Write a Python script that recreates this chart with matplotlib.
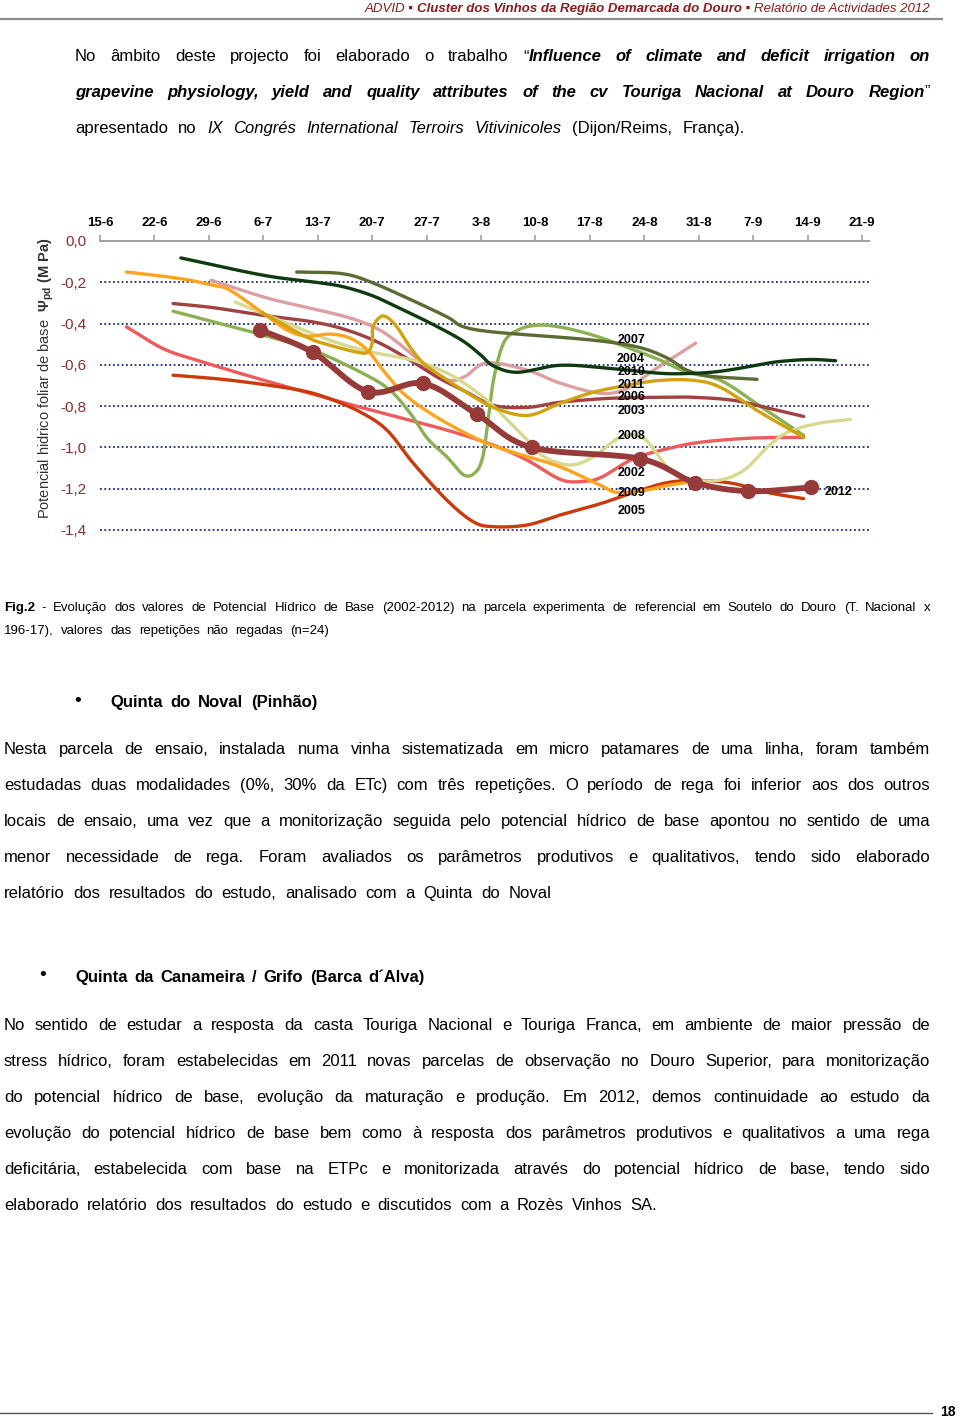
import numpy as np
import matplotlib
matplotlib.use("Agg")
import matplotlib.pyplot as plt

plt.rcParams["font.family"] = ["Liberation Sans", "DejaVu Sans"]
plt.rcParams["mathtext.fontset"] = "custom"
plt.rcParams["mathtext.rm"] = "Liberation Sans"
plt.rcParams["mathtext.bf"] = "Liberation Sans:bold"
plt.rcParams["mathtext.it"] = "Liberation Sans:italic"

# ---- chart data (x = days after 15-6, y = leaf water potential, MPa) ----
week_labels = ["15-6", "22-6", "29-6", "6-7", "13-7", "20-7", "27-7", "3-8",
               "10-8", "17-8", "24-8", "31-8", "7-9", "14-9", "21-9"]
week_days = [0, 7, 14, 21, 28, 35, 42, 49, 56, 63, 70, 77, 84, 91, 98]
psi_ticks = [0.0, -0.2, -0.4, -0.6, -0.8, -1.0, -1.2, -1.4]
psi_labels = ["0,0", "-0,2", "-0,4", "-0,6", "-0,8", "-1,0", "-1,2", "-1,4"]

days_2002 = [3.4, 8.1, 12.4, 21.0, 31.7, 38.2, 44.6, 50.6, 54.9, 59.2, 62.0, 64.4, 68.6, 73.0, 77.2, 83.7, 90.5]
psi_2002 = [-0.416, -0.521, -0.577, -0.674, -0.787, -0.852, -0.916, -0.989, -1.061, -1.155, -1.165, -1.146, -1.055, -1.006, -0.975, -0.955, -0.951]

days_2003 = [14.3, 21.0, 25.3, 31.8, 36.0, 39.5, 42.5, 45.0, 47.0, 49.8, 55.0, 59.2, 64.4, 67.8, 71.2, 76.6]
psi_2003 = [-0.19, -0.271, -0.311, -0.369, -0.432, -0.529, -0.626, -0.675, -0.655, -0.59, -0.626, -0.689, -0.738, -0.714, -0.626, -0.495]

days_2004 = [9.4, 14.6, 21.0, 27.4, 33.8, 37.3, 39.9, 42.1, 44.6, 46.8, 48.3, 49.2, 49.8, 50.6, 51.9,
             53.7, 56.2, 59.2, 63.4, 67.8, 72.1, 75.5, 79.8, 84.9, 90.5]
psi_2004 = [-0.34, -0.392, -0.456, -0.529, -0.641, -0.723, -0.835, -0.956, -1.045, -1.134, -1.12, -1.05, -0.903, -0.675, -0.495,
            -0.432, -0.408, -0.417, -0.456, -0.515, -0.578, -0.636, -0.675, -0.8, -0.942]

days_2005 = [9.4, 16.7, 25.3, 29.6, 33.8, 37.0, 40.3, 44.6, 48.0, 50.6, 54.9, 59.2, 64.4, 68.6, 73.0, 77.2, 81.5, 85.8, 90.5]
psi_2005 = [-0.65, -0.674, -0.72, -0.765, -0.835, -0.92, -1.077, -1.255, -1.36, -1.384, -1.376, -1.327, -1.272, -1.218, -1.17, -1.16, -1.175, -1.218, -1.248]

days_2006 = [9.4, 14.6, 21.0, 27.4, 31.8, 36.0, 39.9, 43.4, 46.7, 50.6, 55.0, 59.2, 65.6, 72.1, 76.3, 81.5, 86.0, 90.5]
psi_2006 = [-0.303, -0.323, -0.36, -0.392, -0.432, -0.495, -0.578, -0.66, -0.723, -0.796, -0.806, -0.781, -0.762, -0.757, -0.757, -0.772, -0.81, -0.85]

days_2007 = [25.3, 31.1, 34.9, 40.3, 44.7, 46.7, 50.6, 59.2, 65.6, 69.9, 73.0, 75.5, 78.5, 84.5]
psi_2007 = [-0.15, -0.158, -0.2, -0.29, -0.369, -0.415, -0.441, -0.466, -0.49, -0.521, -0.568, -0.626, -0.655, -0.67]

days_2008 = [17.4, 23.1, 29.6, 34.5, 40.3, 44.7, 48.0, 50.6, 55.0, 57.1, 60.5, 63.5, 66.9, 69.9, 73.0, 75.5, 79.4, 82.8, 85.8, 88.4, 92.3, 96.5]
psi_2008 = [-0.296, -0.384, -0.481, -0.535, -0.578, -0.641, -0.72, -0.8, -0.966, -1.045, -1.085, -1.045, -0.951, -0.956, -1.097, -1.15, -1.16, -1.111, -1.0, -0.927, -0.884, -0.864]

days_2009 = [3.4, 10.3, 14.6, 16.7, 21.0, 24.1, 26.6, 29.6, 32.2, 34.4, 36.4, 39.0, 42.5, 46.7, 50.4, 55.0, 59.2, 64.4, 66.5, 69.9, 73.0, 75.5]
psi_2009 = [-0.15, -0.182, -0.215, -0.238, -0.35, -0.432, -0.461, -0.451, -0.471, -0.529, -0.626, -0.738, -0.835, -0.925, -0.99, -1.045, -1.094, -1.184, -1.218, -1.209, -1.184, -1.17]

days_2010 = [10.4, 21.0, 27.4, 31.1, 34.9, 38.2, 42.5, 46.5, 48.9, 50.6, 53.7, 59.2, 65.6, 72.1, 76.3, 79.8, 84.0, 87.1, 91.3, 94.6]
psi_2010 = [-0.082, -0.166, -0.198, -0.22, -0.263, -0.32, -0.398, -0.48, -0.55, -0.605, -0.636, -0.602, -0.617, -0.641, -0.641, -0.631, -0.605, -0.585, -0.574, -0.58]

days_2011 = [20.8, 26.6, 29.6, 33.1, 34.4, 35.0, 35.1, 36.0, 36.9, 38.2, 39.9, 41.6, 44.1, 46.7, 50.6, 55.0,
             59.2, 63.4, 67.8, 72.1, 76.3, 79.8, 84.9, 90.5]
psi_2011 = [-0.345, -0.466, -0.505, -0.539, -0.539, -0.495, -0.417, -0.369, -0.369, -0.417, -0.515, -0.592, -0.66, -0.723, -0.806, -0.845,
            -0.786, -0.733, -0.699, -0.675, -0.675, -0.709, -0.83, -0.951]

days_2012 = [20.6, 27.4, 34.5, 41.6, 48.5, 55.5, 69.5, 76.5, 83.4, 91.4]
psi_2012 = [-0.43, -0.54, -0.73, -0.69, -0.84, -1.0, -1.055, -1.17, -1.212, -1.194]

years = ["2002", "2003", "2004", "2005", "2006", "2007", "2008", "2009", "2010", "2011"]
year_days = [days_2002, days_2003, days_2004, days_2005, days_2006, days_2007, days_2008, days_2009, days_2010, days_2011]
year_psi = [psi_2002, psi_2003, psi_2004, psi_2005, psi_2006, psi_2007, psi_2008, psi_2009, psi_2010, psi_2011]
year_colors = ["#f05a5a", "#dca0a0", "#8cb052", "#cc3a0c", "#a04242", "#5b6b34", "#d8d890", "#ffa41c", "#0f3a10", "#d2a210"]

# labels stacked at 24-8, in the order shown
label_years = ["2007", "2004", "2010", "2011", "2006", "2003", "2008", "2002", "2009", "2005"]
label_psi = [-0.481, -0.573, -0.636, -0.699, -0.757, -0.825, -0.947, -1.126, -1.223, -1.306]


def smooth(x, y, n=16):
    # catmull-rom, close to excel's smoothed line
    pts = np.column_stack([x, y])
    p = np.vstack([2 * pts[0] - pts[1], pts, 2 * pts[-1] - pts[-2]])
    t = np.linspace(0, 1, n, endpoint=False)[:, None]
    out = []
    for i in range(1, len(p) - 2):
        p0, p1, p2, p3 = p[i - 1], p[i], p[i + 1], p[i + 2]
        out.append(0.5 * (2 * p1 + (-p0 + p2) * t + (2 * p0 - 5 * p1 + 4 * p2 - p3) * t ** 2
                          + (-p0 + 3 * p1 - 3 * p2 + p3) * t ** 3))
    out.append(pts[-1:])
    s = np.vstack(out)
    return s[:, 0], s[:, 1]


W, H = 960, 1419
fig = plt.figure(figsize=(W / 100, H / 100), dpi=100)
fig.patch.set_facecolor("white")
renderer = fig.canvas.get_renderer()

STYLES = {
    "n": dict(),
    "b": dict(fontweight="bold"),
    "i": dict(fontstyle="italic"),
    "bi": dict(fontweight="bold", fontstyle="italic"),
}


def fx(x):
    return x / W


def fy(y):
    return 1 - y / H


def tokenize(runs):
    words = []
    glue = False
    for txt, st in runs:
        parts = txt.split(" ")
        for i, p in enumerate(parts):
            if p == "":
                continue
            if i == 0 and glue and words:
                words[-1].append((p, st))
            else:
                words.append([(p, st)])
        glue = not txt.endswith(" ")
    return words


def justify(yc, runs, x0, x1, size, color="black"):
    base = yc + 0.36 * size * 100 / 72
    words = tokenize(runs)
    placed = []
    widths = []
    for word in words:
        arts = []
        ws = []
        for piece, st in word:
            a = fig.text(0, fy(base), piece, fontsize=size, color=color, va="baseline", **STYLES[st])
            arts.append(a)
            ws.append(a.get_window_extent(renderer).width)
        placed.append((arts, ws))
        widths.append(sum(ws))
    gap = (x1 - x0 - sum(widths)) / max(len(words) - 1, 1)
    x = x0
    for (arts, ws), w in zip(placed, widths):
        xx = x
        for a, wi in zip(arts, ws):
            a.set_x(fx(xx))
            xx += wi
        x += w + gap


# ---- page header ----
hdr_color = "#8a1c1c"
hdr = [("ADVID \u25aa ", "i"), ("Cluster dos Vinhos da Região Demarcada do Douro", "bi"),
       (" \u25aa Relatório de Actividades 2012", "i")]
x = 930
for txt, st in reversed(hdr):
    t = fig.text(fx(x), fy(12), txt, fontsize=9.5, color=hdr_color, ha="right", va="baseline", **STYLES[st])
    x -= t.get_window_extent(renderer).width
fig.add_artist(plt.Line2D([0, fx(942)], [fy(19), fy(19)], color="#8c8c8c", lw=1.6))

# ---- intro paragraph ----
justify(55, [("No âmbito deste projecto foi elaborado o trabalho \u201c", "n"),
             ("Influence of climate and deficit irrigation on", "bi")], 75, 930, 12)
justify(91, [("grapevine physiology, yield and quality attributes of the cv Touriga Nacional at Douro Region", "bi"),
             ("\u201d", "n")], 75, 930, 12)
justify(127, [("apresentado no ", "n"), ("IX Congrés International Terroirs Vitivinicoles", "i"),
              (" (Dijon/Reims, França).", "n")], 75, 745, 12)

# ---- chart ----
ax = fig.add_axes([fx(100), fy(530), (869 - 100) / W, (530 - 241) / H])
ax.set_xlim(0, 98.9)
ax.set_ylim(-1.4, 0)
for side in ["left", "right", "bottom"]:
    ax.spines[side].set_visible(False)
ax.spines["top"].set_color("#a0a0a0")
ax.spines["top"].set_linewidth(1.4)
ax.xaxis.tick_top()
ax.set_xticks(week_days)
ax.set_xticklabels(week_labels, fontsize=9.5, fontweight="bold")
ax.tick_params(axis="x", direction="out", length=4, width=1.2, color="#a0a0a0", pad=5)
ax.set_yticks(psi_ticks)
ax.set_yticklabels(psi_labels, fontsize=11, color="#8b2e2e")
ax.tick_params(axis="y", length=0, pad=10)
for v in psi_ticks[1:]:
    ax.axhline(v, color="#1c2a78", lw=1.3, ls=(0, (1, 1.4)), zorder=1, clip_on=False)

for d, p, c in zip(year_days, year_psi, year_colors):
    sx, sy = smooth(d, p)
    ax.plot(sx, sy, color=c, lw=2.4, solid_capstyle="round", zorder=2)

sx, sy = smooth(days_2012, psi_2012)
ax.plot(sx, sy, color="#963a3a", lw=4.2, solid_capstyle="round", zorder=4)
ax.plot(days_2012, psi_2012, "o", color="#963a3a", ms=10, zorder=5)

for yr, v in zip(label_years, label_psi):
    ax.text(68.3, v, yr, fontsize=9, fontweight="bold", ha="center", va="center", zorder=6)
ax.text(93.2, -1.218, "2012", fontsize=9, fontweight="bold", ha="left", va="center", zorder=6)

fig.text(fx(46), fy(378),
         r"Potencial hidrico foliar de base  $\mathbf{\Psi_{pd}}$ $\mathbf{(M\ Pa)}$",
         rotation=90, fontsize=10.5, color="#333333", ha="center", va="center")

# ---- caption ----
justify(606, [("Fig.2", "b"), (" - Evolução dos valores de Potencial Hídrico de Base (2002-2012) na parcela "
                               "experimenta de referencial em Soutelo do Douro (T. Nacional x", "n")], 4, 930, 9.5)
justify(629, [("196-17), valores das repetições não regadas (n=24)", "n")], 4, 329, 9.5)

# ---- Quinta do Noval ----
fig.text(fx(78), fy(701), "\u2022", fontsize=14, ha="center", va="center")
justify(701, [("Quinta do Noval (Pinhão)", "b")], 110, 317, 12)
para1 = [
    "Nesta parcela de ensaio, instalada numa vinha sistematizada em micro patamares de uma linha, foram também",
    "estudadas duas modalidades (0%, 30% da ETc) com três repetições. O período de rega foi inferior aos dos outros",
    "locais de ensaio, uma vez que a monitorização seguida pelo potencial hídrico de base apontou no sentido de uma",
    "menor necessidade de rega. Foram avaliados os parâmetros produtivos e qualitativos, tendo sido elaborado",
    "relatório dos resultados do estudo, analisado com a Quinta do Noval",
]
para1_y = [748, 784, 820, 856, 892]
para1_end = [930, 930, 930, 930, 551]
for line, y, x1 in zip(para1, para1_y, para1_end):
    justify(y, [(line, "n")], 4, x1, 12)

# ---- Quinta da Canameira ----
fig.text(fx(43), fy(976), "\u2022", fontsize=14, ha="center", va="center")
justify(976, [("Quinta da Canameira /  Grifo (Barca d\u00b4Alva)", "b")], 75, 425, 12)
para2 = [
    "No sentido de estudar a resposta da casta Touriga Nacional e Touriga Franca, em ambiente de maior pressão de",
    "stress hídrico, foram estabelecidas em 2011 novas parcelas de observação no Douro Superior, para monitorização",
    "do potencial hídrico de base, evolução da maturação e produção. Em 2012, demos continuidade ao estudo da",
    "evolução do potencial hídrico de base bem como à resposta dos parâmetros produtivos e qualitativos a uma rega",
    "deficitária, estabelecida com base na ETPc e monitorizada através do potencial hídrico de base, tendo sido",
    "elaborado relatório dos resultados do estudo e discutidos com a Rozès Vinhos SA.",
]
para2_y = [1024, 1060, 1096, 1132, 1168, 1204]
para2_end = [930, 930, 930, 930, 930, 657]
for line, y, x1 in zip(para2, para2_y, para2_end):
    justify(y, [(line, "n")], 4, x1, 12)

# ---- footer ----
fig.add_artist(plt.Line2D([0, fx(932)], [fy(1413), fy(1413)], color="#555555", lw=1.0))
fig.text(fx(948), fy(1412), "18", fontsize=10, fontweight="bold", ha="center", va="center")

fig.savefig("out.png", dpi=100)
